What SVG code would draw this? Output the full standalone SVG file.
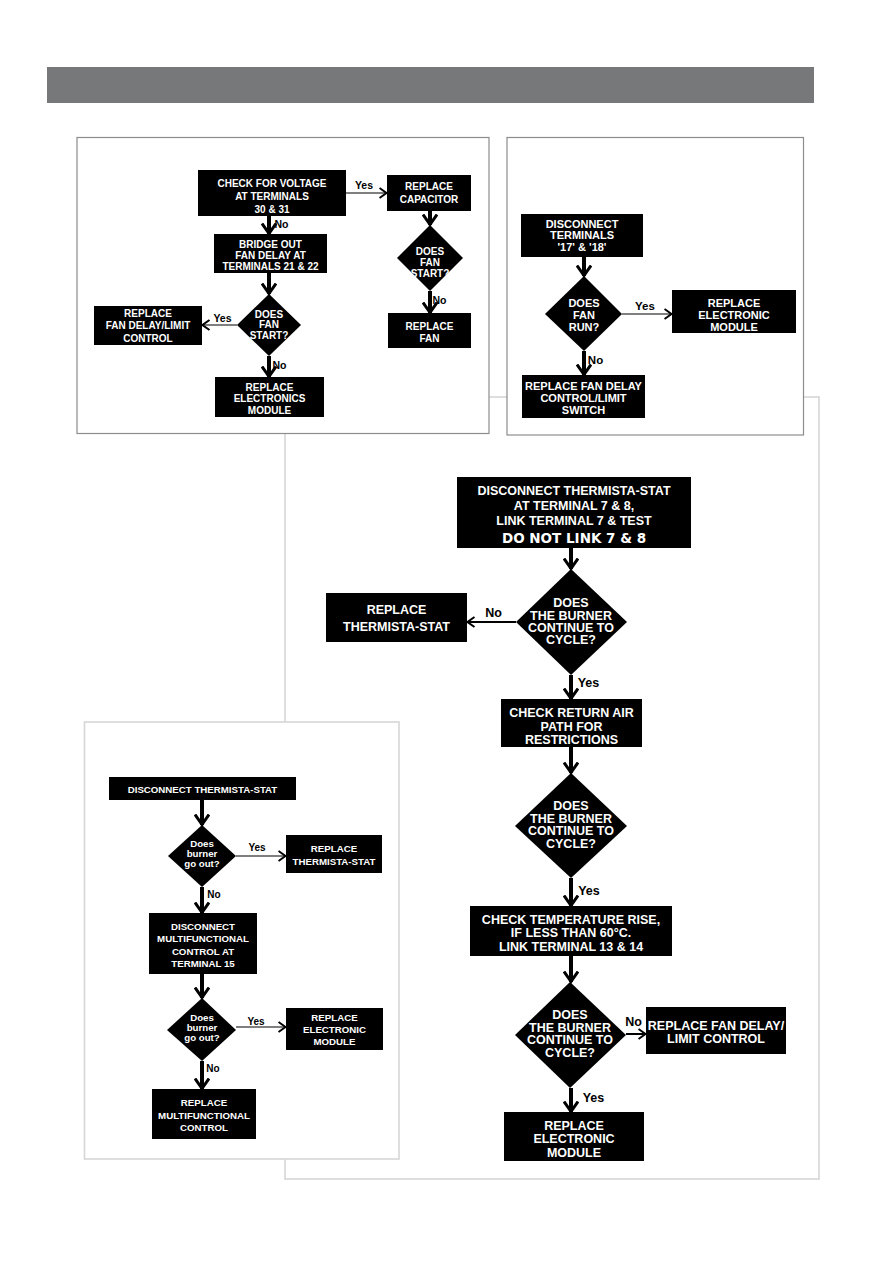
<svg xmlns="http://www.w3.org/2000/svg" width="893" height="1263" viewBox="0 0 893 1263">
<style>
.panelA{fill:#fff;stroke:#8c8c8c;stroke-width:1.2}
.panelB{fill:#fff;stroke:#d6d6d6;stroke-width:1.6}
.box{fill:#000}
.t{font-family:"Liberation Sans",Arial,sans-serif;font-weight:bold;fill:#fff;text-anchor:middle}
.s10{font-size:10px}
.s11{font-size:11px}
.s125{font-size:12.5px}
.s97{font-size:9.7px}
.big{font-family:"DejaVu Sans",Verdana,sans-serif;font-size:13.5px;font-weight:bold;fill:#fff;text-anchor:middle}
.lbl{font-family:"Liberation Sans Narrow","Liberation Sans",Arial,sans-serif;font-weight:bold;fill:#000;text-anchor:middle}
.thick{stroke:#000;stroke-width:4;fill:none;marker-end:url(#aT)}
.med{stroke:#000;stroke-width:2;fill:none;marker-end:url(#aS)}
.thin{stroke:#000;stroke-width:1.2;fill:none;marker-end:url(#aS)}
</style>
<defs>
<marker id="aT" viewBox="0 0 13 16" refX="11.5" refY="8" markerWidth="13" markerHeight="16" markerUnits="userSpaceOnUse" orient="auto">
<path d="M1,1 L11,8 L1,15" fill="none" stroke="#000" stroke-width="3"/>
</marker>
<marker id="aS" viewBox="0 0 10 12" refX="8.5" refY="6" markerWidth="10" markerHeight="12" markerUnits="userSpaceOnUse" orient="auto">
<path d="M1,1 L8,6 L1,11" fill="none" stroke="#000" stroke-width="2"/>
</marker>
</defs>

<g id="header"><rect x="47" y="67" width="767" height="36" fill="#77787a"/></g>

<g id="panels">
<rect class="panelB" x="285" y="397" width="534" height="782"/>
<rect class="panelA" x="77" y="137.5" width="412" height="296"/>
<rect class="panelA" x="507" y="137.5" width="296.5" height="297.5"/>
<rect class="panelB" x="84.5" y="722" width="314.5" height="437"/>
</g>

<g id="connectors">
<!-- top-left -->
<line class="thin" x1="346" y1="193" x2="387" y2="193"/>
<line class="thick" x1="430" y1="211" x2="430" y2="225"/>
<line class="thick" x1="430" y1="291" x2="430" y2="313"/>
<line class="thick" x1="269" y1="216" x2="269" y2="234"/>
<line class="thick" x1="269" y1="273" x2="269" y2="294"/>
<line class="thin" x1="237" y1="325" x2="202" y2="325"/>
<line class="thick" x1="269" y1="356" x2="269" y2="377"/>
<!-- top-right -->
<line class="thick" x1="584" y1="257" x2="584" y2="276"/>
<line class="thin" x1="622" y1="314" x2="672" y2="314"/>
<line class="thick" x1="584" y1="351" x2="584" y2="375"/>
<!-- big panel -->
<line class="thick" x1="571" y1="548" x2="571" y2="569"/>
<line class="med" x1="516" y1="622" x2="467" y2="622"/>
<line class="thick" x1="571" y1="675" x2="571" y2="699"/>
<line class="thick" x1="571" y1="747" x2="571" y2="773"/>
<line class="thick" x1="571" y1="878" x2="571" y2="906"/>
<line class="thick" x1="571" y1="956" x2="571" y2="982"/>
<line class="med" x1="626" y1="1034" x2="646" y2="1034"/>
<line class="thick" x1="571" y1="1088" x2="571" y2="1112"/>
<!-- bottom-left -->
<line class="thick" x1="202" y1="800" x2="202" y2="825"/>
<line class="thin" x1="236" y1="856" x2="286" y2="856"/>
<line class="thick" x1="202" y1="887" x2="202" y2="913"/>
<line class="thick" x1="202" y1="974" x2="202" y2="998"/>
<line class="thin" x1="236" y1="1027" x2="286" y2="1027"/>
<line class="thick" x1="202" y1="1061" x2="202" y2="1089"/>
</g>

<g id="labels">
<text class="lbl" font-size="10.5" x="364" y="188.5">Yes</text>
<text class="lbl" font-size="10.5" x="439.5" y="303.5">No</text>
<text class="lbl" font-size="10.5" x="281.5" y="227.5">No</text>
<text class="lbl" font-size="10.5" x="222.5" y="321.5">Yes</text>
<text class="lbl" font-size="10.5" x="279.5" y="368.5">No</text>
<text class="lbl" font-size="11.5" x="645" y="310">Yes</text>
<text class="lbl" font-size="11.5" x="595.5" y="364">No</text>
<text class="lbl" font-size="12.5" x="493.5" y="617">No</text>
<text class="lbl" font-size="12.5" x="588.5" y="686.5">Yes</text>
<text class="lbl" font-size="12.5" x="589" y="894.5">Yes</text>
<text class="lbl" font-size="12.5" x="633.5" y="1026">No</text>
<text class="lbl" font-size="12.5" x="593.5" y="1101.5">Yes</text>
<text class="lbl" font-size="10" x="257" y="850.5">Yes</text>
<text class="lbl" font-size="10" x="214" y="897.5">No</text>
<text class="lbl" font-size="10" x="256" y="1024.5">Yes</text>
<text class="lbl" font-size="10" x="213" y="1071.5">No</text>
</g>

<!-- ===== top-left panel nodes ===== -->
<g id="tl-check-voltage">
<rect class="box" x="198" y="170" width="148" height="46"/>
<text class="t s10" x="272" y="186.5">CHECK FOR VOLTAGE</text>
<text class="t s10" x="272" y="199.5">AT TERMINALS</text>
<text class="t s10" x="272" y="212.5">30 &amp; 31</text>
</g>
<g id="tl-replace-capacitor">
<rect class="box" x="387" y="175" width="84" height="36"/>
<text class="t s10" x="429" y="190">REPLACE</text>
<text class="t s10" x="429" y="203">CAPACITOR</text>
</g>
<g id="tl-cap-does-fan-start">
<polygon class="box" points="430,225 463,258 430,291 397,258"/>
<text class="t s10" x="430" y="254.5">DOES</text>
<text class="t s10" x="430" y="266">FAN</text>
<text class="t s10" x="430" y="276.5">START?</text>
</g>
<g id="tl-replace-fan">
<rect class="box" x="388" y="313" width="83" height="35"/>
<text class="t s10" x="429.5" y="329.5">REPLACE</text>
<text class="t s10" x="429.5" y="341.5">FAN</text>
</g>
<g id="tl-bridge-out">
<rect class="box" x="214" y="234" width="113" height="39"/>
<text class="t s10" x="270.5" y="247.5">BRIDGE OUT</text>
<text class="t s10" x="270.5" y="259">FAN DELAY AT</text>
<text class="t s10" x="270.5" y="269.5">TERMINALS 21 &amp; 22</text>
</g>
<g id="tl-does-fan-start">
<polygon class="box" points="269,294 301,325 269,356 237,325"/>
<text class="t s10" x="269" y="317.5">DOES</text>
<text class="t s10" x="269" y="327.5">FAN</text>
<text class="t s10" x="269" y="338.5">START?</text>
</g>
<g id="tl-replace-fan-delay">
<rect class="box" x="94" y="306" width="108" height="39"/>
<text class="t s10" x="148" y="316.5">REPLACE</text>
<text class="t s10" x="148" y="329">FAN DELAY/LIMIT</text>
<text class="t s10" x="148" y="341.5">CONTROL</text>
</g>
<g id="tl-replace-electronics">
<rect class="box" x="215" y="377" width="109" height="40"/>
<text class="t s10" x="269.5" y="390.5">REPLACE</text>
<text class="t s10" x="269.5" y="401.5">ELECTRONICS</text>
<text class="t s10" x="269.5" y="413.5">MODULE</text>
</g>

<!-- ===== top-right panel nodes ===== -->
<g id="tr-disconnect">
<rect class="box" x="521" y="214" width="122" height="43"/>
<text class="t s11" x="582" y="228">DISCONNECT</text>
<text class="t s11" x="582" y="239">TERMINALS</text>
<text class="t s11" x="582" y="251">'17' &amp; '18'</text>
</g>
<g id="tr-does-fan-run">
<polygon class="box" points="584,276 622,314 584,351 545,314"/>
<text class="t s11" x="584" y="307">DOES</text>
<text class="t s11" x="584" y="319">FAN</text>
<text class="t s11" x="584" y="331">RUN?</text>
</g>
<g id="tr-replace-module">
<rect class="box" x="672" y="290" width="124" height="43"/>
<text class="t s11" x="734" y="307">REPLACE</text>
<text class="t s11" x="734" y="319">ELECTRONIC</text>
<text class="t s11" x="734" y="331">MODULE</text>
</g>
<g id="tr-replace-fan-delay">
<rect class="box" x="522" y="375" width="123" height="43"/>
<text class="t s11" x="583.5" y="390">REPLACE FAN DELAY</text>
<text class="t s11" x="583.5" y="402">CONTROL/LIMIT</text>
<text class="t s11" x="583.5" y="414">SWITCH</text>
</g>

<!-- ===== big panel nodes ===== -->
<g id="bp-disconnect">
<rect class="box" x="457" y="477" width="234" height="71"/>
<text class="t s125" x="574" y="495">DISCONNECT THERMISTA-STAT</text>
<text class="t s125" x="574" y="510">AT TERMINAL 7 &amp; 8,</text>
<text class="t s125" x="574" y="525">LINK TERMINAL 7 &amp; TEST</text>
<text class="big" x="574" y="542.5">DO NOT LINK 7 &amp; 8</text>
</g>
<g id="bp-cycle-1">
<polygon class="box" points="571,569 627,622 571,675 516,622"/>
<text class="t s125" x="571" y="606.5">DOES</text>
<text class="t s125" x="571" y="619.5">THE BURNER</text>
<text class="t s125" x="571" y="631.5">CONTINUE TO</text>
<text class="t s125" x="571" y="643.5">CYCLE?</text>
</g>
<g id="bp-replace-thermista">
<rect class="box" x="326" y="593" width="141" height="49"/>
<text class="t s125" x="396.5" y="613.5">REPLACE</text>
<text class="t s125" x="396.5" y="630.5">THERMISTA-STAT</text>
</g>
<g id="bp-check-return-air">
<rect class="box" x="501" y="699" width="141" height="48"/>
<text class="t s125" x="571.5" y="716.5">CHECK RETURN AIR</text>
<text class="t s125" x="571.5" y="730.5">PATH FOR</text>
<text class="t s125" x="571.5" y="743.5">RESTRICTIONS</text>
</g>
<g id="bp-cycle-2">
<polygon class="box" points="571,773 627,826 571,878 515,826"/>
<text class="t s125" x="571" y="809.5">DOES</text>
<text class="t s125" x="571" y="822.5">THE BURNER</text>
<text class="t s125" x="571" y="834.5">CONTINUE TO</text>
<text class="t s125" x="571" y="847.5">CYCLE?</text>
</g>
<g id="bp-check-temp">
<rect class="box" x="470" y="906" width="202" height="50"/>
<text class="t s125" x="571" y="923.5">CHECK TEMPERATURE RISE,</text>
<text class="t s125" x="571" y="936.5">IF LESS THAN 60°C.</text>
<text class="t s125" x="571" y="950.5">LINK TERMINAL 13 &amp; 14</text>
</g>
<g id="bp-cycle-3">
<polygon class="box" points="570,982 626,1035 570,1088 515,1035"/>
<text class="t s125" x="570" y="1018.5">DOES</text>
<text class="t s125" x="570" y="1031.5">THE BURNER</text>
<text class="t s125" x="570" y="1043.5">CONTINUE TO</text>
<text class="t s125" x="570" y="1056.5">CYCLE?</text>
</g>
<g id="bp-replace-fan-delay">
<rect class="box" x="646" y="1007" width="140" height="47"/>
<text class="t s125" x="716" y="1029.5">REPLACE FAN DELAY/</text>
<text class="t s125" x="716" y="1042.5">LIMIT CONTROL</text>
</g>
<g id="bp-replace-module">
<rect class="box" x="504" y="1112" width="140" height="49"/>
<text class="t s125" x="574" y="1129.5">REPLACE</text>
<text class="t s125" x="574" y="1142.5">ELECTRONIC</text>
<text class="t s125" x="574" y="1156.5">MODULE</text>
</g>

<!-- ===== bottom-left panel nodes ===== -->
<g id="bl-disconnect-thermista">
<rect class="box" x="109" y="777" width="187" height="23"/>
<text class="t s97" x="202.5" y="792.5">DISCONNECT THERMISTA-STAT</text>
</g>
<g id="bl-burner-1">
<polygon class="box" points="202,825 236,856 202,887 168,856"/>
<text class="t s97" x="202" y="846.5">Does</text>
<text class="t s97" x="202" y="856.5">burner</text>
<text class="t s97" x="202" y="866.5">go out?</text>
</g>
<g id="bl-replace-thermista">
<rect class="box" x="286" y="835" width="96" height="38"/>
<text class="t s97" x="334" y="851.5">REPLACE</text>
<text class="t s97" x="334" y="864.5">THERMISTA-STAT</text>
</g>
<g id="bl-disconnect-multi">
<rect class="box" x="149" y="913" width="108" height="61"/>
<text class="t s97" x="203" y="929.5">DISCONNECT</text>
<text class="t s97" x="203" y="941.5">MULTIFUNCTIONAL</text>
<text class="t s97" x="203" y="954.5">CONTROL AT</text>
<text class="t s97" x="203" y="966.5">TERMINAL 15</text>
</g>
<g id="bl-burner-2">
<polygon class="box" points="202,998 236,1030 202,1061 167,1030"/>
<text class="t s97" x="202" y="1020.5">Does</text>
<text class="t s97" x="202" y="1030.5">burner</text>
<text class="t s97" x="202" y="1040.5">go out?</text>
</g>
<g id="bl-replace-module">
<rect class="box" x="286" y="1008" width="97" height="42"/>
<text class="t s97" x="334.5" y="1020.5">REPLACE</text>
<text class="t s97" x="334.5" y="1032.5">ELECTRONIC</text>
<text class="t s97" x="334.5" y="1044.5">MODULE</text>
</g>
<g id="bl-replace-multi">
<rect class="box" x="152" y="1089" width="104" height="50"/>
<text class="t s97" x="204" y="1105.5">REPLACE</text>
<text class="t s97" x="204" y="1118.5">MULTIFUNCTIONAL</text>
<text class="t s97" x="204" y="1130.5">CONTROL</text>
</g>
</svg>
